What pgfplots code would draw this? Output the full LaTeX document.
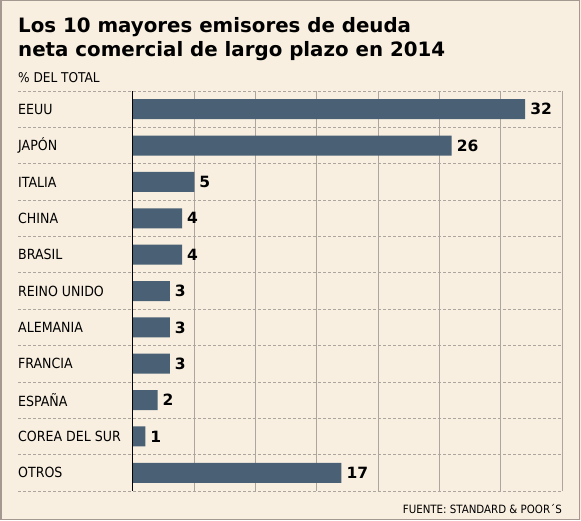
\documentclass[border=0pt]{standalone}
\usepackage{fontspec}
\setmainfont{DejaVu Sans Condensed}[BoldFont={DejaVu Sans Condensed Bold}]
\newfontfamily\widefont{DejaVu Sans}
\usepackage{pgfplots}
\pgfplotsset{compat=1.18}

\definecolor{paper}{RGB}{248,239,224}
\definecolor{barblue}{RGB}{74,97,117}
\definecolor{gridgray}{RGB}{172,166,158}
\definecolor{framegray}{RGB}{165,152,145}

\begin{document}
\begin{tikzpicture}[x=1pt,y=1pt]
\useasboundingbox (0,0) rectangle (581,520);
\fill[paper] (0,0) rectangle (581,520);
\draw[framegray, line width=1.5pt] (0.75,0.75) rectangle (579.25,519.25);

% titles
\node[anchor=base west, inner sep=0pt, font=\widefont\bfseries\fontsize{19.8}{24}\selectfont] at (18,487) {Los 10 mayores emisores de deuda};
\node[anchor=base west, inner sep=0pt, font=\widefont\bfseries\fontsize{19.8}{24}\selectfont] at (18,463) {neta comercial de largo plazo en 2014};
\node[anchor=base west, inner sep=0pt, font=\fontsize{13.5}{16}\selectfont] at (18,437) {\% DEL TOTAL};
\node[anchor=base east, inner sep=0pt, font=\fontsize{11.4}{14}\selectfont] at (562,7) {FUENTE: STANDARD \& POOR´S};

\begin{axis}[
  at={(133pt,29pt)}, anchor=south west,
  scale only axis, width=429pt, height=400pt,
  xmin=0, xmax=35, ymin=-0.5, ymax=10.5,
  y dir=reverse,
  xbar, bar width=20pt,
  clip=false,
  axis line style={draw=none},
  major tick length=0pt,
  xtick={5,10,...,35}, xticklabels={},
  xmajorgrids, grid style={gridgray, line width=0.8pt},
  ytick={0,...,10},
  yticklabels={EEUU, JAPÓN, ITALIA, CHINA, BRASIL, REINO UNIDO, ALEMANIA, FRANCIA, ESPAÑA, COREA DEL SUR, OTROS},
  yticklabel style={anchor=west, inner sep=0pt, xshift=-115pt, font=\fontsize{14}{16}\selectfont},
  /pgf/number format/assume math mode=true,
  nodes near coords,
  every node near coord/.append style={anchor=west, inner sep=5pt, font=\widefont\bfseries\fontsize{15.5}{18}\selectfont, black},
]
\pgfplotsinvokeforeach{0,...,11}{
  \draw[gridgray, line width=0.8pt, dash pattern=on 3pt off 2pt] (axis cs:-9.37,#1-0.5) -- (axis cs:35,#1-0.5);
}
\addplot[fill=barblue, draw=none] coordinates {
  (32,0) (26,1) (5,2) (4,3) (4,4) (3,5) (3,6) (3,7) (2,8) (1,9) (17,10)
};
\draw[black, line width=1pt] (axis cs:0,-0.5) -- (axis cs:0,10.5);
\end{axis}
\end{tikzpicture}
\end{document}
